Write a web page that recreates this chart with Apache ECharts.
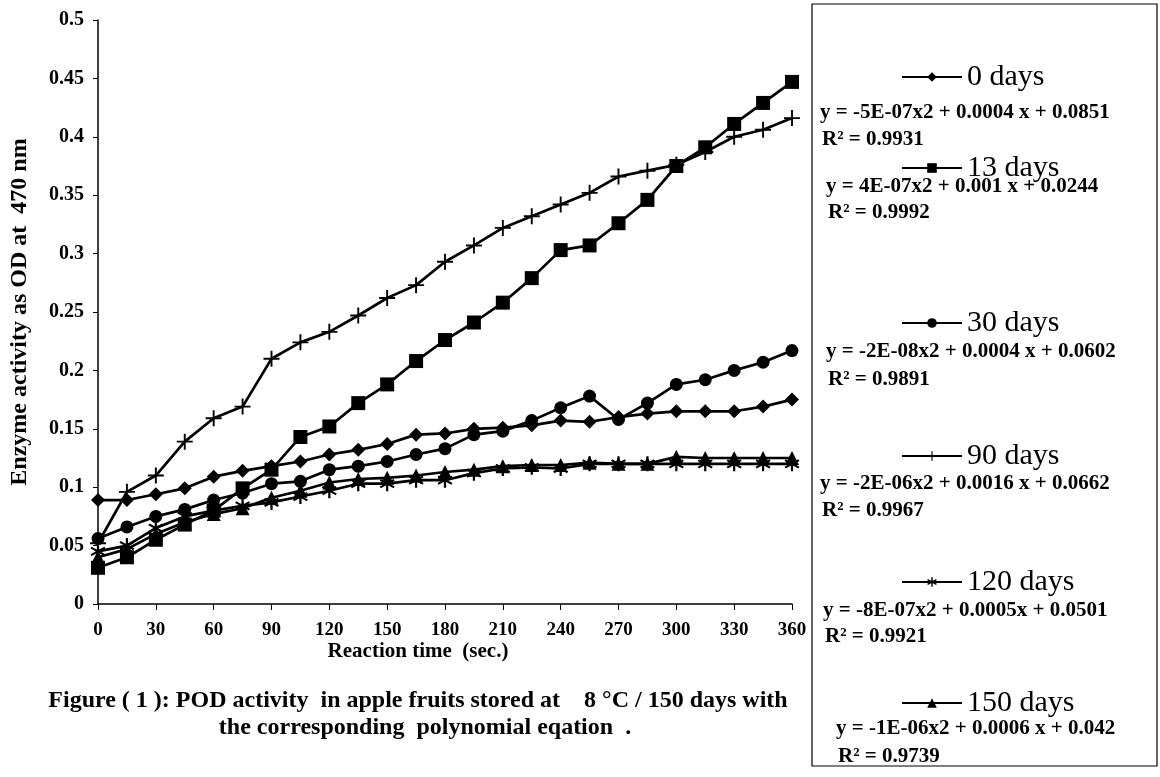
<!DOCTYPE html>
<html>
<head>
<meta charset="utf-8">
<script src="https://cdn.jsdelivr.net/npm/echarts@6/dist/echarts.min.js"></script>
<style>
  html, body { margin: 0; padding: 0; background: #fff; }
  #pod-chart { width: 1160px; height: 777px; }
</style>
</head>
<body>
<div id="pod-chart"></div>
<script>
var times = [0, 15, 30, 45, 60, 75, 90, 105, 120, 135, 150, 165, 180, 195, 210, 225, 240, 255, 270, 285, 300, 315, 330, 345, 360];
var seriesNames = ['0 days', '13 days', '30 days', '90 days', '120 days', '150 days'];

var day0 = [0.089, 0.089, 0.094, 0.099, 0.109, 0.114, 0.118, 0.122, 0.128, 0.132, 0.137, 0.145, 0.146, 0.150, 0.151, 0.153, 0.157, 0.156, 0.160, 0.163, 0.165, 0.165, 0.165, 0.169, 0.175];
var day13 = [0.031, 0.040, 0.055, 0.068, 0.080, 0.099, 0.115, 0.143, 0.152, 0.172, 0.188, 0.208, 0.226, 0.241, 0.258, 0.279, 0.303, 0.307, 0.326, 0.346, 0.375, 0.391, 0.411, 0.429, 0.447];
var day30 = [0.056, 0.066, 0.075, 0.081, 0.089, 0.095, 0.103, 0.105, 0.115, 0.118, 0.122, 0.128, 0.133, 0.145, 0.148, 0.157, 0.168, 0.178, 0.158, 0.172, 0.188, 0.192, 0.200, 0.207, 0.217];
var day90 = [0.052, 0.096, 0.110, 0.139, 0.159, 0.169, 0.210, 0.224, 0.233, 0.247, 0.262, 0.273, 0.293, 0.307, 0.322, 0.332, 0.342, 0.352, 0.366, 0.371, 0.376, 0.387, 0.400, 0.406, 0.416];
var day120 = [0.045, 0.050, 0.065, 0.075, 0.080, 0.084, 0.087, 0.092, 0.097, 0.103, 0.103, 0.106, 0.106, 0.112, 0.116, 0.117, 0.116, 0.120, 0.120, 0.120, 0.120, 0.120, 0.120, 0.120, 0.120];
var day150 = [0.040, 0.047, 0.060, 0.070, 0.077, 0.082, 0.091, 0.097, 0.104, 0.107, 0.108, 0.110, 0.113, 0.115, 0.118, 0.119, 0.119, 0.121, 0.120, 0.120, 0.126, 0.125, 0.125, 0.125, 0.125];

var equations = [
    'y = -5E-07x2 + 0.0004 x + 0.0851',
    'y = 4E-07x2 + 0.001 x + 0.0244',
    'y = -2E-08x2 + 0.0004 x + 0.0602',
    'y = -2E-06x2 + 0.0016 x + 0.0662',
    'y = -8E-07x2 + 0.0005x + 0.0501',
    'y = -1E-06x2 + 0.0006 x + 0.042'
];
var rSquared = ['0.9931', '0.9992', '0.9891', '0.9967', '0.9921', '0.9739'];

// plus and asterisk markers as filled bars
var plusPath = 'path://M4.4,0H5.6V10H4.4Z M0,4.4H10V5.6H0Z';
var starPath = 'path://M4.3,0H5.7V10H4.3Z M0.32,3.106L1.02,1.894L9.68,6.894L8.98,8.106Z M8.98,1.894L9.68,3.106L1.02,8.106L0.32,6.894Z';
var symbols = ['diamond', 'rect', 'circle', plusPath, starPath, 'triangle'];
var symbolSizes = [14, 14, 13, 16, 15, 14];
var allData = [day0, day13, day30, day90, day120, day150];

// vertical centres of the legend rows, equations and R2 lines
var legendRows = [77, 168, 323, 456, 582, 703];
var eqRows = [113, 187, 352, 484, 611, 729];
var r2Rows = [140, 213, 380, 511, 637, 757];
var eqLefts = [820, 826, 826, 820, 823, 836];

var font = '"Liberation Serif", "Times New Roman", serif';

var series = seriesNames.map(function (name, i) {
    return {
        name: name,
        type: 'line',
        data: times.map(function (t, k) { return [t, allData[i][k]]; }),
        symbol: symbols[i],
        symbolSize: symbolSizes[i],
        showAllSymbol: true,
        lineStyle: { color: '#000', width: 2.7 },
        itemStyle: { color: '#000' },
        z: 10 - i
    };
});

var legends = seriesNames.map(function (name, i) {
    return {
        data: [name],
        left: 896,
        top: legendRows[i] - 20,
        itemWidth: 60,
        itemHeight: 12,
        textStyle: { fontFamily: font, fontSize: 30, color: '#000' }
    };
});

var graphics = [{
    type: 'rect',
    shape: { x: 812, y: 4, width: 345, height: 762 },
    style: { fill: 'none', stroke: '#000', lineWidth: 1.2 }
}];
equations.forEach(function (eq, i) {
    graphics.push({
        type: 'text',
        x: eqLefts[i],
        y: eqRows[i],
        style: { text: eq, font: 'bold 21px ' + font, fill: '#000', textVerticalAlign: 'middle' }
    });
    graphics.push({
        type: 'text',
        x: eqLefts[i] + 2,
        y: r2Rows[i],
        style: { text: 'R² = ' + rSquared[i], font: 'bold 21px ' + font, fill: '#000', textVerticalAlign: 'middle' }
    });
});
graphics.push({
    type: 'text',
    x: 418,
    y: 652,
    style: { text: 'Reaction time  (sec.)', font: 'bold 21px ' + font, fill: '#000', textAlign: 'center', textVerticalAlign: 'middle' }
});
graphics.push({
    type: 'text',
    x: 418,
    y: 701,
    style: { text: 'Figure ( 1 ): POD activity  in apple fruits stored at    8 °C / 150 days with', font: 'bold 24px ' + font, fill: '#000', textAlign: 'center', textVerticalAlign: 'middle' }
});
graphics.push({
    type: 'text',
    x: 425,
    y: 728,
    style: { text: 'the corresponding  polynomial eqation  .', font: 'bold 24px ' + font, fill: '#000', textAlign: 'center', textVerticalAlign: 'middle' }
});

var myChart = echarts.init(document.getElementById('pod-chart'));
var option = {
    backgroundColor: '#fff',
    animation: false,
    grid: { left: 96, right: 368, top: 20, bottom: 173 },
    legend: legends,
    xAxis: {
        type: 'value',
        min: 0,
        max: 360,
        interval: 30,
        axisLine: { lineStyle: { color: '#000', width: 1.5 } },
        axisTick: { length: 6, lineStyle: { color: '#000' } },
        axisLabel: { margin: 17, fontFamily: font, fontWeight: 'bold', fontSize: 19, color: '#000' },
        splitLine: { show: false }
    },
    yAxis: {
        type: 'value',
        min: 0,
        max: 0.5,
        interval: 0.05,
        name: 'Enzyme activity as OD at  470 nm',
        nameLocation: 'middle',
        nameGap: 66,
        nameTextStyle: { fontFamily: font, fontWeight: 'bold', fontSize: 24, color: '#000' },
        axisLine: { show: true, lineStyle: { color: '#000', width: 1.5 } },
        axisTick: { show: true, length: 5, lineStyle: { color: '#000' } },
        axisLabel: { margin: 14, fontFamily: font, fontWeight: 'bold', fontSize: 20, color: '#000' },
        splitLine: { show: false }
    },
    series: series,
    graphic: graphics
};
myChart.setOption(option);
</script>
</body>
</html>
